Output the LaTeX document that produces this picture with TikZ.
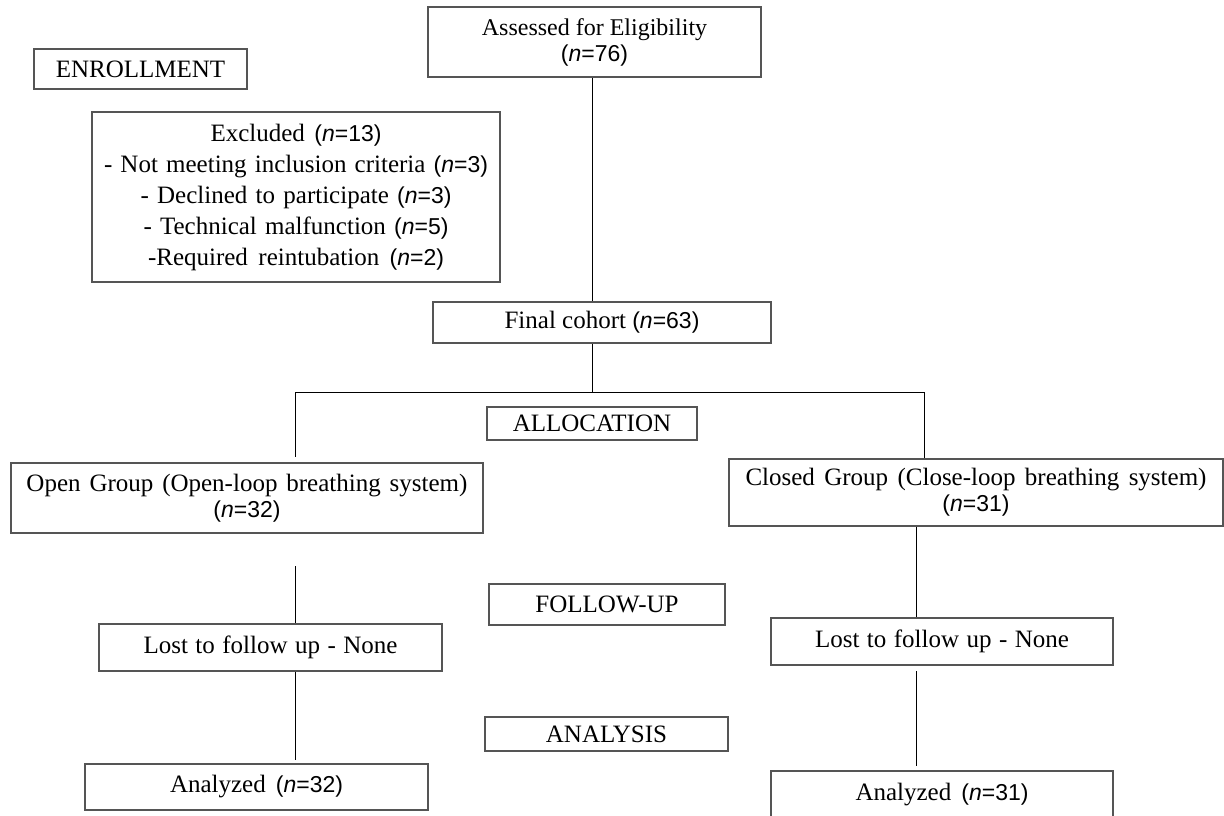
\documentclass[tikz,border=0pt]{standalone}
\usepackage{fontspec}
\setmainfont{Liberation Serif}
\setsansfont{Liberation Sans}
\definecolor{boxgray}{RGB}{85,85,85}
\newcommand\nval[1]{{\sffamily\fontsize{23}{26}\selectfont(\textit{n}=#1)}}
\newcommand\wl[2]{\makebox[#1pt][s]{#2}}
\begin{document}
\begin{tikzpicture}[x=1pt,y=-1pt,
  box/.style={draw=boxgray, line width=1.3pt, inner sep=0pt, align=center,
              font=\fontsize{25}{26}\selectfont},
  link/.style={draw=black, line width=1pt}]
\useasboundingbox (0,0) rectangle (1224,815);

% boxes
\node[box, minimum width=213pt, minimum height=40pt] (enroll) at (140.5,69) {ENROLLMENT};
\node[box, minimum width=333pt, minimum height=70pt, font=\fontsize{24}{26}\selectfont] (assess) at (594.5,42)
  {Assessed for Eligibility\\\nval{76}};
\node[box, minimum width=408pt, minimum height=170pt, font=\fontsize{25}{31}\selectfont] (excl) at (296,197)
  {\wl{171}{Excluded \nval{13}}\\
   \wl{384}{- Not meeting inclusion criteria \nval{3}}\\
   \wl{311}{- Declined to participate \nval{3}}\\
   \wl{305}{- Technical malfunction \nval{5}}\\
   \wl{296}{-Required reintubation \nval{2}}};
\node[box, minimum width=338pt, minimum height=41pt] (final) at (602,322.5) {Final cohort \nval{63}};
\node[box, minimum width=210pt, minimum height=33pt] (alloc) at (592,423.5) {ALLOCATION};
\node[box, minimum width=472pt, minimum height=70pt] (open) at (247,498)
  {\wl{441}{Open Group (Open-loop breathing system)}\\\nval{32}};
\node[box, minimum width=494pt, minimum height=67pt] (closed) at (976,492.5)
  {\wl{461}{Closed Group (Close-loop breathing system)}\\\nval{31}};
\node[box, minimum width=236pt, minimum height=41pt] (follow) at (607,604.5) {FOLLOW-UP};
\node[box, minimum width=343pt, minimum height=47pt] (lostL) at (270.5,647.5) {\wl{254}{Lost to follow up - None}};
\node[box, minimum width=342pt, minimum height=47pt] (lostR) at (942,641.5) {\wl{254}{Lost to follow up - None}};
\node[box, minimum width=243pt, minimum height=34pt] (analysis) at (606.5,734) {ANALYSIS};
\node[box, minimum width=343pt, minimum height=46pt] (anL) at (256.5,787) {\wl{173}{Analyzed \nval{32}}};
\node[box, minimum width=342pt, minimum height=48pt] (anR) at (942,795) {\wl{173}{Analyzed \nval{31}}};

% connector guide coordinates
\coordinate (trunk) at (592,0);
\coordinate (rx2) at (916,0);
\coordinate (split) at (592,392);
\coordinate (splitL) at (295,392);
\coordinate (splitR) at (924,392);
\coordinate (openIn) at (295,457);
\coordinate (openOut) at (295,566);
\coordinate (anLIn) at (295,760);
\coordinate (lostROut) at (916,671);
\coordinate (anRIn) at (916,766);

% connectors
\draw[link] (trunk |- assess.south) -- (trunk |- final.north);
\draw[link] (trunk |- final.south) -- (split);
\draw[link] (splitL) -- (splitR);
\draw[link] (splitL) -- (openIn);
\draw[link] (splitR) -- (splitR |- closed.north);
\draw[link] (openOut) -- (openOut |- lostL.north);
\draw[link] (rx2 |- closed.south) -- (rx2 |- lostR.north);
\draw[link] (openOut |- lostL.south) -- (anLIn);
\draw[link] (lostROut) -- (anRIn);
\end{tikzpicture}
\end{document}
